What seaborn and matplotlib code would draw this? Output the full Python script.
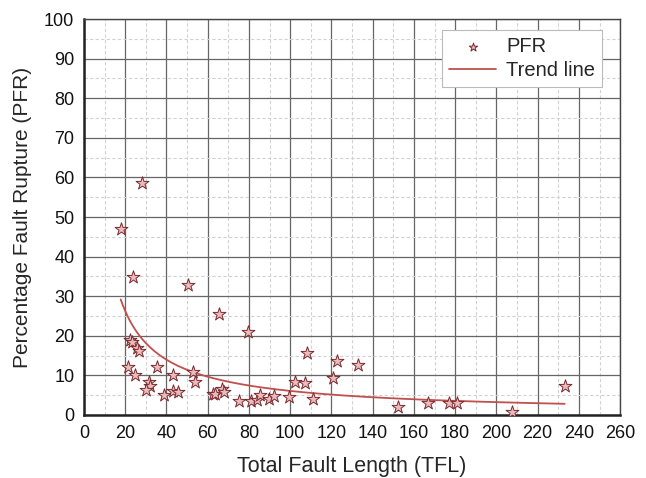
import numpy as np
import pandas as pd
import seaborn as sns
import matplotlib.pyplot as plt
from matplotlib.ticker import MultipleLocator

# values
tfl = [28.0, 17.8, 23.9, 50.6, 65.6, 79.7, 22.3, 23.1, 25.5, 26.5,
       21.2, 24.9, 35.4, 31.5, 32.0, 30.1, 43.0, 39.0, 43.0, 45.6,
       53.0, 53.8, 62.4, 63.7, 66.8, 67.9, 75.3, 80.8, 83.7, 85.4,
       89.7, 92.1, 99.6, 102.3, 107.2, 108.0, 111.2, 120.6, 122.5, 132.9,
       152.4, 166.6, 177.2, 180.7, 207.6, 233.1]
pfr = [58.5, 47.0, 34.9, 32.7, 25.4, 20.9, 18.9, 18.3, 16.8, 16.2,
       12.0, 10.2, 12.2, 8.2, 7.2, 6.3, 10.1, 5.0, 6.1, 5.7,
       10.9, 8.2, 5.2, 5.3, 6.6, 5.7, 3.6, 3.4, 3.8, 5.0,
       4.0, 4.9, 4.6, 8.4, 8.0, 15.6, 4.0, 9.4, 13.7, 12.7,
       2.1, 2.9, 2.9, 2.9, 0.8, 7.4]

# power trend line (y = a * x^b)
trend_a = 402.0
trend_b = -0.911

df = pd.DataFrame({"TFL": tfl, "PFR": pfr})
x_fit = np.linspace(min(tfl), max(tfl), 200)
trend = pd.DataFrame({"TFL": x_fit, "PFR": trend_a * x_fit ** trend_b})

sns.set_style("white")
plt.rcParams['font.family'] = ['Liberation Sans', 'DejaVu Sans']

fig = plt.figure(figsize=(6.46, 4.78), dpi=100)
ax = fig.add_axes([0.130, 0.132, 0.830, 0.828])

sns.lineplot(data=trend, x="TFL", y="PFR", ax=ax, color="#c0504d",
             linewidth=1.3, label="Trend line", zorder=3)
sns.scatterplot(data=df, x="TFL", y="PFR", ax=ax, marker="*", s=95,
                color="#ebbcbe", edgecolor="#7a2a2e", linewidth=0.7,
                label="PFR", zorder=4)

ax.set_xlim(0, 260)
ax.set_ylim(0, 100)
ax.xaxis.set_major_locator(MultipleLocator(20))
ax.xaxis.set_minor_locator(MultipleLocator(10))
ax.yaxis.set_major_locator(MultipleLocator(10))
ax.yaxis.set_minor_locator(MultipleLocator(5))
ax.grid(which="major", color="#666666", linewidth=0.9)
ax.grid(which="minor", color="#d2d2d2", linewidth=0.8, linestyle=(0, (3, 2)))
ax.set_axisbelow(True)

ax.tick_params(which="both", length=0, labelsize=13, colors="#111111", pad=7)
ax.set_xlabel("Total Fault Length (TFL)", fontsize=15.5, labelpad=10)
ax.set_ylabel("Percentage Fault Rupture (PFR)", fontsize=15, labelpad=9)

for side in ["top", "right"]:
    ax.spines[side].set_color("#444444")
    ax.spines[side].set_linewidth(1.0)
for side in ["left", "bottom"]:
    ax.spines[side].set_color("#222222")
    ax.spines[side].set_linewidth(1.8)

handles, labels = ax.get_legend_handles_labels()
order = [labels.index("PFR"), labels.index("Trend line")]
leg = ax.legend([handles[i] for i in order], [labels[i] for i in order],
                loc="upper right", bbox_to_anchor=(0.966, 0.972), fontsize=14.5,
                frameon=True, fancybox=False, framealpha=1, markerscale=0.65,
                edgecolor="#bbbbbb", handlelength=2.3, borderpad=0.35,
                labelspacing=0.25, handletextpad=0.5, borderaxespad=0)
leg.get_frame().set_linewidth(0.8)

fig.savefig("out.png", dpi=100)
